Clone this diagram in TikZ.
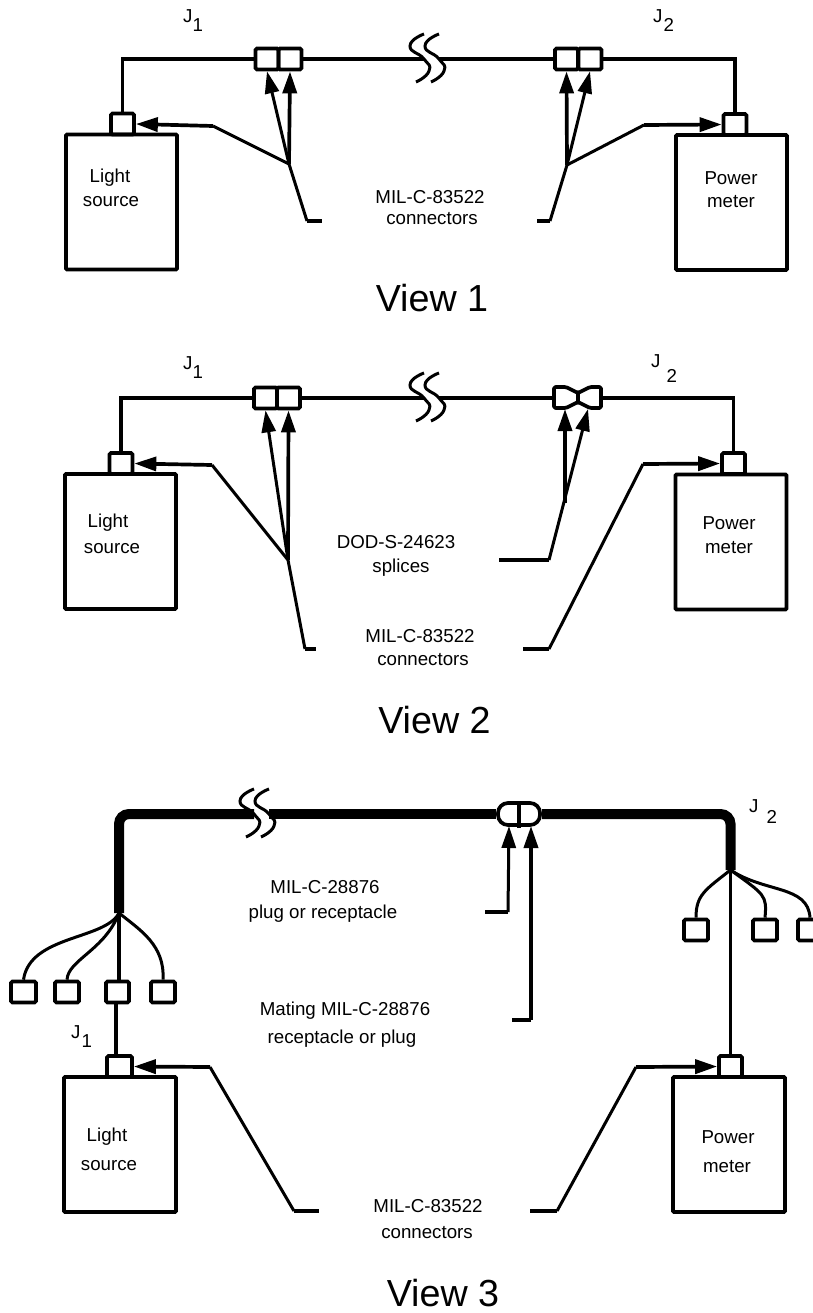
\documentclass[tikz,border=0pt]{standalone}
\usepackage{fontspec}
\setmainfont{Liberation Sans}
\usetikzlibrary{arrows.meta}
\newcommand{\jack}[3]{J\hspace{#1}\raisebox{-#2}{#3}}
\begin{document}
\begin{tikzpicture}[x=1pt, y=-1pt,
		wire/.style = {draw, line width=3.7pt},
		leader/.style = {draw, line width=3pt},
		fibre/.style = {draw, line width=3pt},
		cable/.style = {draw, line width=10pt, rounded corners=10pt},
		tip/.style = {-{Triangle[length=22pt,width=14pt]}},
		unitbox/.style = {shape=rectangle, rounded corners=1pt, draw, line width=3.7pt, minimum width=111pt, minimum height=135pt, inner sep=0pt},
		plugbox/.style = {shape=rectangle, rounded corners=1.5pt, draw, line width=3.7pt, minimum width=23pt, minimum height=21pt, inner sep=0pt},
		tag/.style = {inner sep=0pt, font=\fontsize{18.7pt}{22pt}\selectfont},
		jacktag/.style = {inner sep=0pt, anchor=base west, font=\fontsize{18.7pt}{22pt}\selectfont},
		viewtag/.style = {inner sep=0pt, font=\fontsize{37.7pt}{44pt}\selectfont},
		pics/fibrebreak/.style = {code={
			\draw[line width=3pt] plot[smooth, tension=1] coordinates {(0,-25) (-14,-13) (0,0) (5,12) (-8,23)};
			\draw[line width=3pt] plot[smooth, tension=1] coordinates {(15,-25) (1,-13) (15,0) (20,12) (7,23)};
			\coordinate (-in) at (0,0);
			\coordinate (-out) at (15,0);
		}}]
	\useasboundingbox (0,0) rectangle (812,1313);

	% View 1
	\node[unitbox] (sourceA) at (121.5,202) {};
	\node[plugbox] (sourcePlugA) at (122.5,124) {};
	\node[unitbox] (meterA) at (731.5,202.5) {};
	\node[plugbox] (meterPlugA) at (735,124.5) {};
	\node[plugbox] (leftConnAa) at (267,59) {};
	\node[plugbox] (leftConnAb) at (290,59) {};
	\node[plugbox] (rightConnAa) at (566.5,59) {};
	\node[plugbox] (rightConnAb) at (590,59) {};
	\pic (breakA) at (424,59) {fibrebreak};
	\coordinate (leftHubA) at (289,164);
	\coordinate (leftKneeA) at (213,126);
	\coordinate (leftFootA) at (307,221);
	\coordinate (leftEndA) at (322,221);
	\coordinate (rightHubA) at (567,165);
	\coordinate (rightKneeA) at (644,125);
	\coordinate (rightFootA) at (550,221);
	\coordinate (rightEndA) at (537,221);
	\draw[wire] (sourcePlugA.north) |- (leftConnAa.west);
	\draw[wire] (leftConnAb.east) -- (breakA-in);
	\draw[wire] (breakA-out) -- (rightConnAa.west);
	\draw[wire] (rightConnAb.east) -| (meterPlugA.north);
	\draw[leader,tip] (leftHubA) -- (leftConnAa.south);
	\draw[wire,tip] (leftHubA) -- (leftConnAb.south);
	\draw[wire,tip] (leftKneeA) -- (sourcePlugA.east);
	\draw[leader] (leftKneeA) -- (leftHubA) -- (leftFootA);
	\draw[wire] (leftFootA) -- (leftEndA);
	\draw[wire,tip] (rightHubA) -- (rightConnAa.south);
	\draw[leader,tip] (rightHubA) -- (rightConnAb.south);
	\draw[wire,tip] (rightKneeA) -- (meterPlugA.west);
	\draw[leader] (rightKneeA) -- (rightHubA) -- (rightFootA);
	\draw[wire] (rightFootA) -- (rightEndA);
	\node[tag] (lightA) at (110,178) {Light};
	\node[tag] (sourceTextA) at (111,202) {source};
	\node[tag] (powerA) at (731,178) {Power};
	\node[tag] (meterTextA) at (731,202) {meter};
	\node[tag] (partA) at (430,197) {MIL-C-83522};
	\node[tag] (connectorsA) at (432,219) {connectors};
	\node[jacktag] (jackOneA) at (183,23) {\jack{0pt}{9pt}{1}};
	\node[jacktag] (jackTwoA) at (653,23) {\jack{1pt}{9pt}{2}};
	\node[viewtag] (viewA) at (432,298) {View 1};

	% View 2
	\node[unitbox] (sourceB) at (120.5,541.5) {};
	\node[plugbox] (sourcePlugB) at (121,463.5) {};
	\node[unitbox] (meterB) at (731,542) {};
	\node[plugbox] (meterPlugB) at (733.5,463.5) {};
	\node[plugbox] (leftConnBa) at (265.5,398) {};
	\node[plugbox] (leftConnBb) at (288.5,398) {};
	\pic (breakB) at (424,398) {fibrebreak};
	\coordinate (spliceIn) at (554,398);
	\coordinate (spliceOut) at (601,398);
	\coordinate (spliceA) at (565,409);
	\coordinate (spliceB) at (588,409);
	\draw[wire, line join=round, rounded corners=1.5pt] (554,387) -- (566,387) -- (578,393) -- (590,387) -- (601,387) -- (601,408) -- (590,408) -- (578,402) -- (566,408) -- (554,408) -- cycle;
	\draw[wire] (578,393) -- (578,402);
	\coordinate (leftHubB) at (288,560);
	\coordinate (leftKneeB) at (212,465);
	\coordinate (leftFootB) at (305,649);
	\coordinate (leftEndB) at (316,649);
	\coordinate (rightHubB) at (565,503);
	\coordinate (rightFootB) at (549,560);
	\coordinate (rightEndB) at (499,560);
	\coordinate (rightKneeB) at (643,464);
	\coordinate (meterFootB) at (549,649);
	\coordinate (meterEndB) at (523,649);
	\draw[wire] (sourcePlugB.north) |- (leftConnBa.west);
	\draw[wire] (leftConnBb.east) -- (breakB-in);
	\draw[wire] (breakB-out) -- (spliceIn);
	\draw[wire] (spliceOut) -| (meterPlugB.north);
	\draw[leader,tip] (leftHubB) -- (leftConnBa.south);
	\draw[wire,tip] (leftHubB) -- (leftConnBb.south);
	\draw[wire,tip] (leftKneeB) -- (sourcePlugB.east);
	\draw[leader] (leftKneeB) -- (leftHubB) -- (leftFootB);
	\draw[wire] (leftFootB) -- (leftEndB);
	\draw[wire,tip] (rightHubB) -- (spliceA);
	\draw[leader,tip] (rightFootB) -- (spliceB);
	\draw[wire] (rightFootB) -- (rightEndB);
	\draw[wire,tip] (rightKneeB) -- (meterPlugB.west);
	\draw[leader] (rightKneeB) -- (meterFootB);
	\draw[wire] (meterFootB) -- (meterEndB);
	\node[tag] (lightB) at (108,523) {Light};
	\node[tag] (sourceTextB) at (112,549) {source};
	\node[tag] (powerB) at (729,523) {Power};
	\node[tag] (meterTextB) at (729,548) {meter};
	\node[tag] (partBa) at (396,542) {DOD-S-24623};
	\node[tag] (splicesB) at (401,568) {splices};
	\node[tag] (partBb) at (420,636) {MIL-C-83522};
	\node[tag] (connectorsB) at (423,660) {connectors};
	\node[jacktag] (jackOneB) at (183,369) {\jack{0pt}{9pt}{1}};
	\node[jacktag] (jackTwoB) at (651,367) {\jack{6pt}{15pt}{2}};
	\node[viewtag] (viewB) at (434.5,720) {View 2};

	% View 3
	\node[unitbox, minimum width=112pt] (sourceC) at (120,1144.5) {};
	\node[plugbox, minimum width=25pt] (sourcePlugC) at (119.5,1066.5) {};
	\node[unitbox, minimum width=112pt] (meterC) at (729,1144.5) {};
	\node[plugbox] (meterPlugC) at (730.5,1066.5) {};
	\node[plugbox, minimum width=25pt] (fiberLa) at (23.5,992) {};
	\node[plugbox, minimum width=24pt] (fiberLb) at (67,992) {};
	\node[plugbox] (fiberLc) at (117.5,992) {};
	\node[plugbox, minimum width=24pt] (fiberLd) at (163,992) {};
	\node[plugbox, minimum width=24pt] (fiberRa) at (696,930) {};
	\node[plugbox, minimum width=24pt] (fiberRb) at (765,930) {};
	\node[plugbox, minimum width=24pt] (fiberRc) at (810,930) {};
	\node[shape=rectangle, rounded corners=10pt, draw, line width=3.7pt, minimum width=42pt, minimum height=22pt, inner sep=0pt] (matingC) at (519,814) {};
	\pic (breakC) at (254,814) {fibrebreak};
	\coordinate (leftHubC) at (119,913);
	\coordinate (rightHubC) at (730.5,870);
	\coordinate (matingA) at (509,826);
	\coordinate (matingB) at (531,826);
	\coordinate (matingTop) at (519,803);
	\coordinate (matingBottom) at (519,828);
	\coordinate (plugFoot) at (508,912);
	\coordinate (plugEnd) at (485,912);
	\coordinate (socketFoot) at (531,1020);
	\coordinate (socketEnd) at (512,1020);
	\coordinate (leftKneeC) at (210,1067);
	\coordinate (leftFootC) at (294,1211);
	\coordinate (leftEndC) at (319,1211);
	\coordinate (rightKneeC) at (636,1067);
	\coordinate (rightFootC) at (557,1211);
	\coordinate (rightEndC) at (530,1211);
	\coordinate (fiberTop) at (119,981);
	\coordinate (fiberDrop) at (116,1003);
	\coordinate (plugDrop) at (116,1056);
	\draw[cable] (leftHubC) |- (breakC-in);
	\draw[cable] (breakC-out) -- (matingC.west);
	\draw[cable] (matingC.east) -| (rightHubC);
	\draw[wire] (matingTop) -- (matingBottom);
	\draw[fibre] (leftHubC) .. controls (105,940) and (30,935) .. (fiberLa.north);
	\draw[fibre] (leftHubC) .. controls (105,950) and (68,960) .. (fiberLb.north);
	\draw[wire] (leftHubC) -- (fiberTop);
	\draw[fibre] (leftHubC) .. controls (140,930) and (165,945) .. (fiberLd.north);
	\draw[wire] (fiberDrop) -- (plugDrop);
	\draw[fibre] (rightHubC) .. controls (705,890) and (696,895) .. (fiberRa.north);
	\draw[fibre] (rightHubC) .. controls (765,895) and (767,895) .. (fiberRb.north);
	\draw[fibre] (rightHubC) .. controls (765,893) and (808,885) .. (fiberRc.north);
	\draw[wire] (rightHubC) -- (meterPlugC.north);
	\draw[leader,tip] (plugFoot) -- (matingA);
	\draw[wire] (plugFoot) -- (plugEnd);
	\draw[wire,tip] (socketFoot) -- (matingB);
	\draw[wire] (socketFoot) -- (socketEnd);
	\draw[wire,tip] (leftKneeC) -- (sourcePlugC.east);
	\draw[leader] (leftKneeC) -- (leftFootC);
	\draw[wire] (leftFootC) -- (leftEndC);
	\draw[wire,tip] (rightKneeC) -- (meterPlugC.west);
	\draw[leader] (rightKneeC) -- (rightFootC);
	\draw[wire] (rightFootC) -- (rightEndC);
	\node[tag] (lightC) at (107,1137) {Light};
	\node[tag] (sourceTextC) at (109,1166) {source};
	\node[tag] (powerC) at (728,1137) {Power};
	\node[tag] (meterTextC) at (727,1167) {meter};
	\node[tag] (partCa) at (325,887) {MIL-C-28876};
	\node[tag] (plugText) at (323,914) {plug or receptacle};
	\node[tag] (partCb) at (345,1011) {Mating MIL-C-28876};
	\node[tag] (socketText) at (342,1039) {receptacle or plug};
	\node[tag] (partCc) at (428,1206) {MIL-C-83522};
	\node[tag] (connectorsC) at (427,1233) {connectors};
	\node[jacktag] (jackOneC) at (71,1038) {\jack{1pt}{9pt}{1}};
	\node[jacktag] (jackTwoC) at (749,812) {\jack{8pt}{11pt}{2}};
	\node[viewtag] (viewC) at (443,1293) {View 3};
\end{tikzpicture}
\end{document}
